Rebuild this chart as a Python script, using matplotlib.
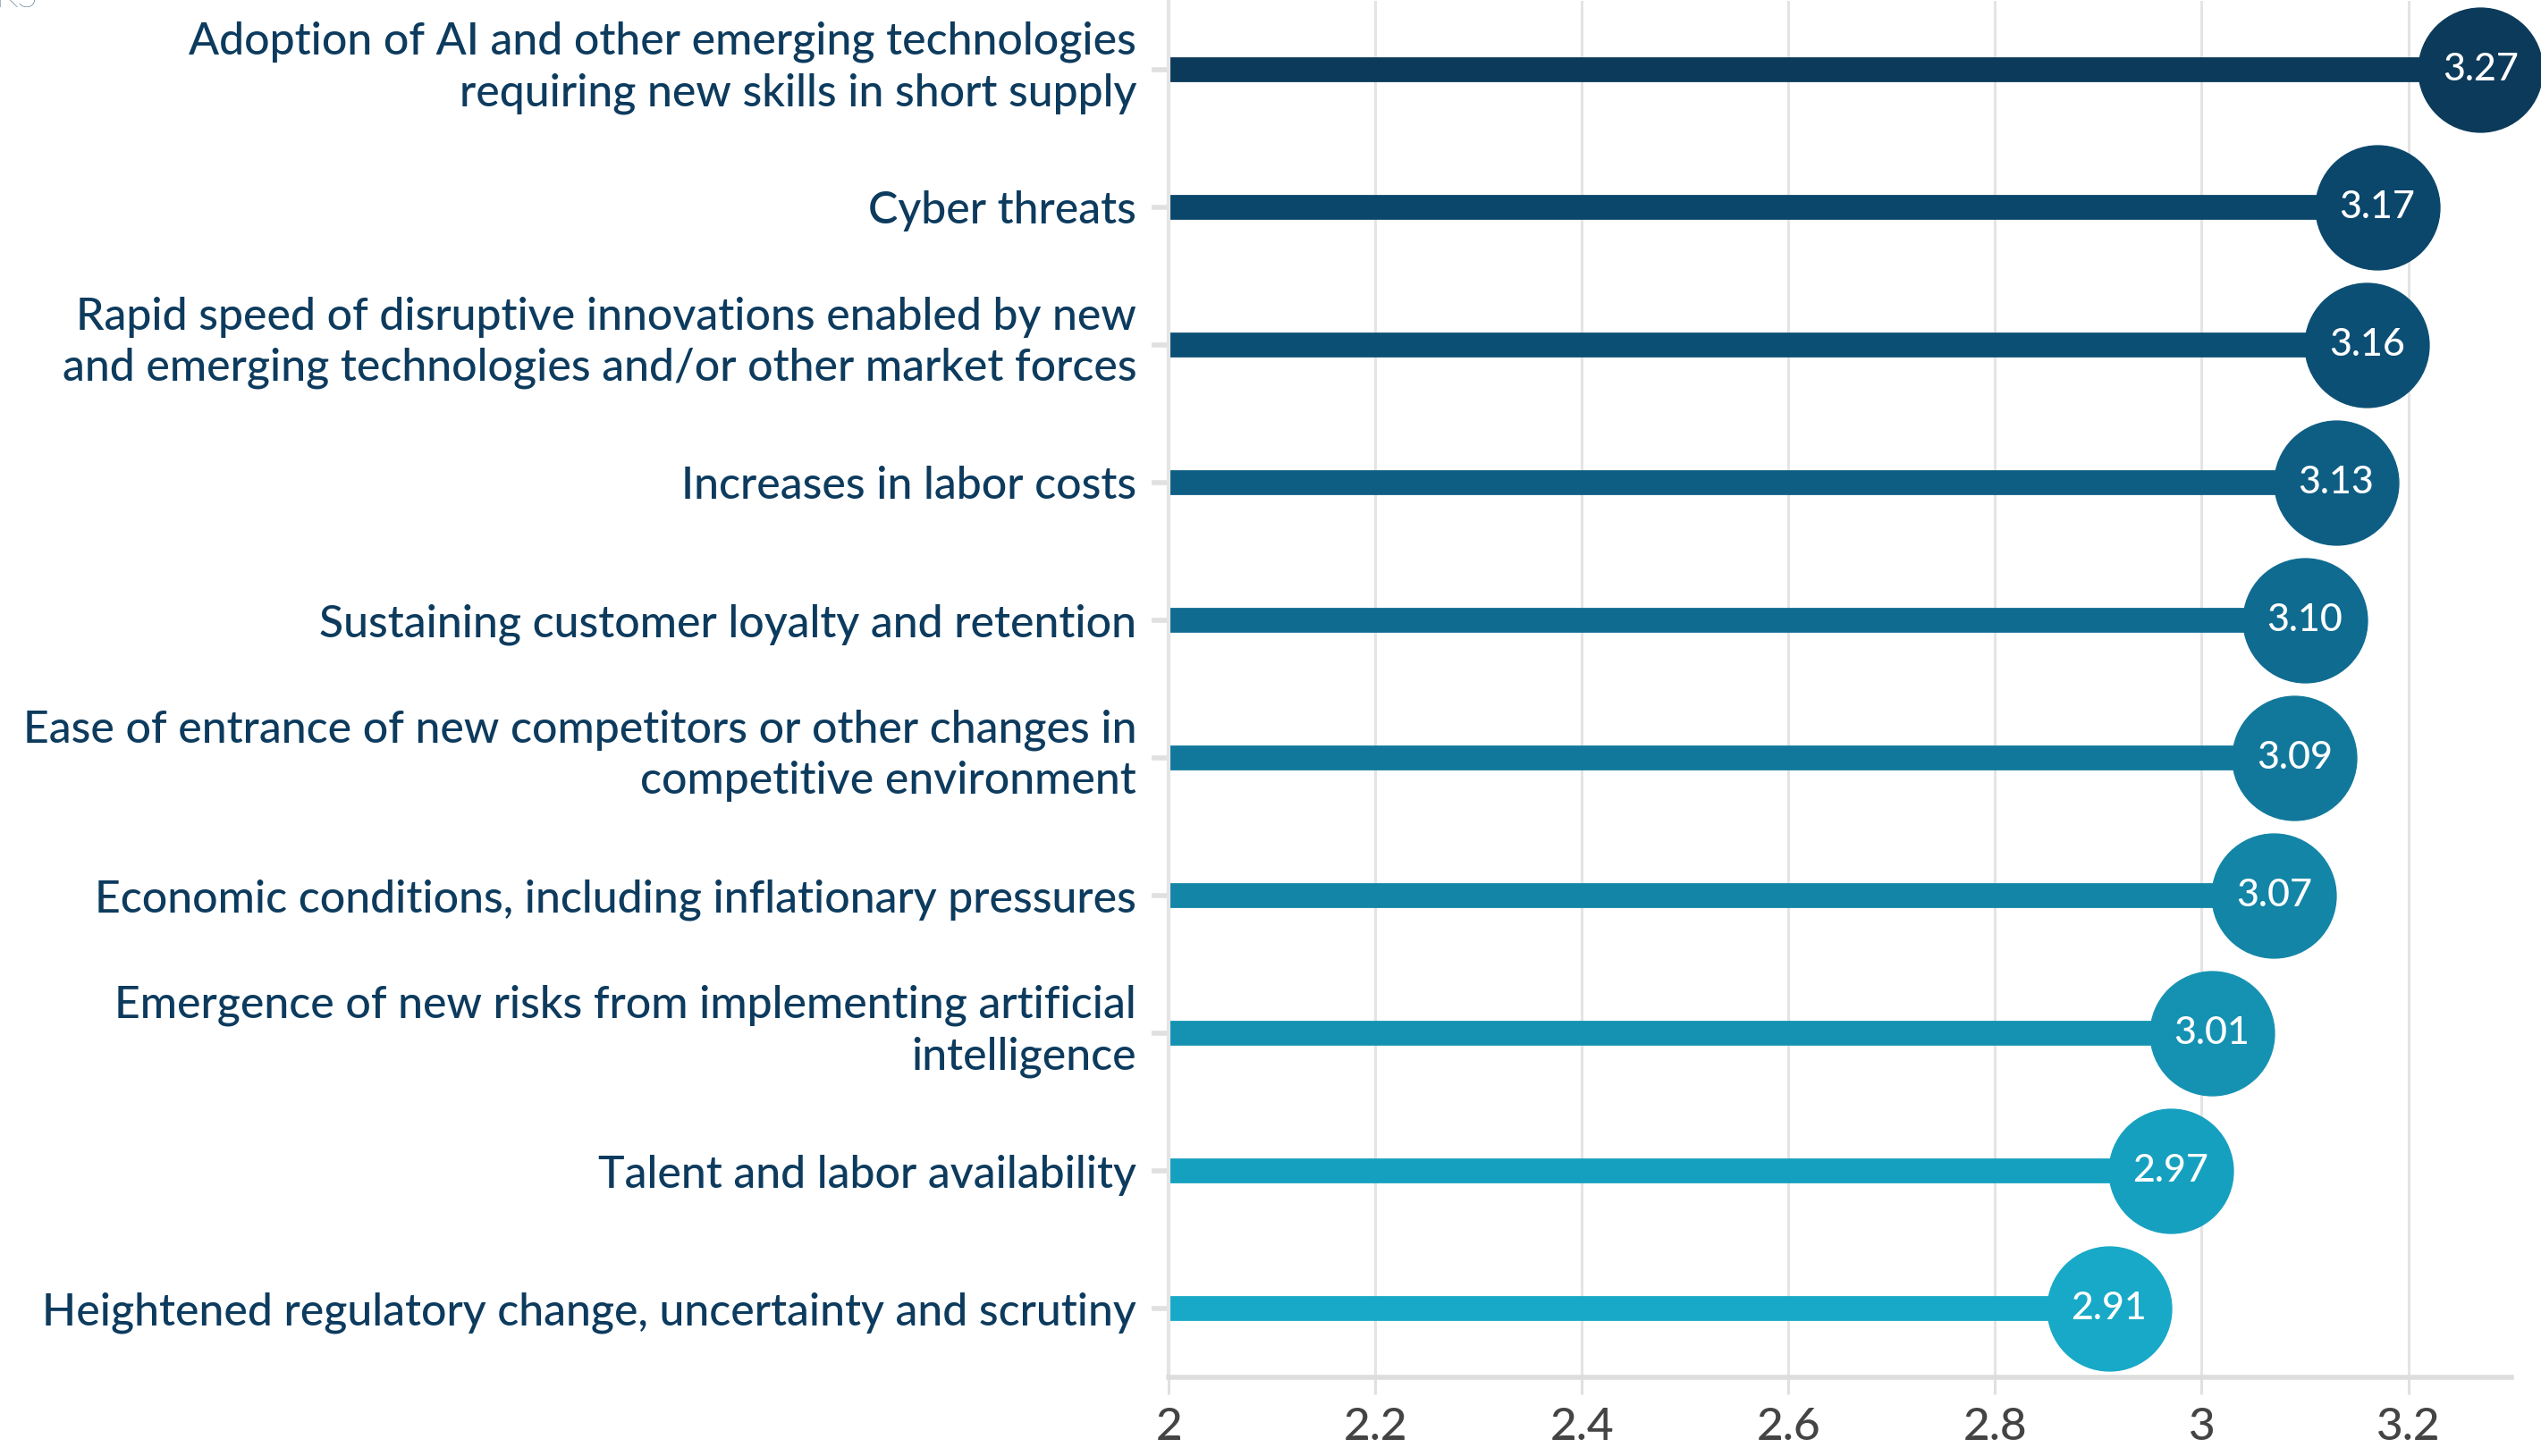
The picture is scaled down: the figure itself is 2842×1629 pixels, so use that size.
import matplotlib.pyplot as plt

# Data (top to bottom)
labels = [
    'Adoption of AI and other emerging technologies\nrequiring new skills in short supply',
    'Cyber threats',
    'Rapid speed of disruptive innovations enabled by new\nand emerging technologies and/or other market forces',
    'Increases in labor costs',
    'Sustaining customer loyalty and retention',
    'Ease of entrance of new competitors or other changes in\ncompetitive environment',
    'Economic conditions, including inflationary pressures',
    'Emergence of new risks from implementing artificial\nintelligence',
    'Talent and labor availability',
    'Heightened regulatory change, uncertainty and scrutiny',
]
scores = [3.27, 3.17, 3.16, 3.13, 3.10, 3.09, 3.07, 3.01, 2.97, 2.91]
xticks = [2, 2.2, 2.4, 2.6, 2.8, 3, 3.2]
xtick_labels = ['2', '2.2', '2.4', '2.6', '2.8', '3', '3.2']

colors = ['#0b3a5a', '#0b466b', '#0c4f75', '#0e5e84', '#0f6b90',
          '#11789b', '#1385a6', '#1592b2', '#16a0c0', '#17a9c7']

plt.rcParams['font.family'] = ['Lato', 'DejaVu Sans']

fig = plt.figure(figsize=(28.42, 16.29), dpi=100)
ax = fig.add_axes([0.46, 0.054, 0.5284, 0.9455])

ypos = list(range(len(labels)))

# grid
for t in xticks:
    ax.axvline(t, color='#e4e4e4', lw=2.2, zorder=0)

# stems and dots
for y, v, c in zip(ypos, scores, colors):
    ax.hlines(y, 2, v, color=c, lw=20, capstyle='butt', zorder=2)
    ax.plot(v, y, 'o', ms=100, color=c, mec=c, clip_on=False, zorder=3)
    ax.text(v, y, f'{v:.2f}', ha='center', va='center', color='white',
            fontsize=31, fontweight='medium', zorder=4)

ax.set_xlim(2, 3.3)
ax.set_ylim(len(labels) - 0.5, -0.5)

# category labels drawn by hand so two-line ones can sit a bit higher
ax.set_yticks(ypos)
ax.set_yticklabels([])
for y, lab in zip(ypos, labels):
    dy = 9 if '\n' in lab else 0
    ax.annotate(lab, xy=(0, y), xycoords=('axes fraction', 'data'),
                xytext=(-26, dy), textcoords='offset points',
                ha='right', va='center_baseline', fontsize=36,
                color='#0d3b5e', fontweight='medium', linespacing=1.3,
                multialignment='right')

ax.set_xticks(xticks)
ax.set_xticklabels(xtick_labels, fontsize=37, color='#444444', fontweight='medium')

ax.tick_params(axis='y', length=14, width=4, color='#e0e0e0')
ax.tick_params(axis='x', length=14, width=2.2, color='#e0e0e0', pad=10)

for s in ['top', 'right']:
    ax.spines[s].set_visible(False)
ax.spines['left'].set_color('#e4e4e4')
ax.spines['left'].set_linewidth(3)
ax.spines['bottom'].set_color('#dddddd')
ax.spines['bottom'].set_linewidth(4)

# clipped heading remnant at the top-left corner
fig.text(-0.002, 1 - 8 / 1629, 'KS', fontsize=30, color='#0d3b5e',
         va='baseline', ha='left', fontweight='light')

fig.savefig('out.png', dpi=100)
